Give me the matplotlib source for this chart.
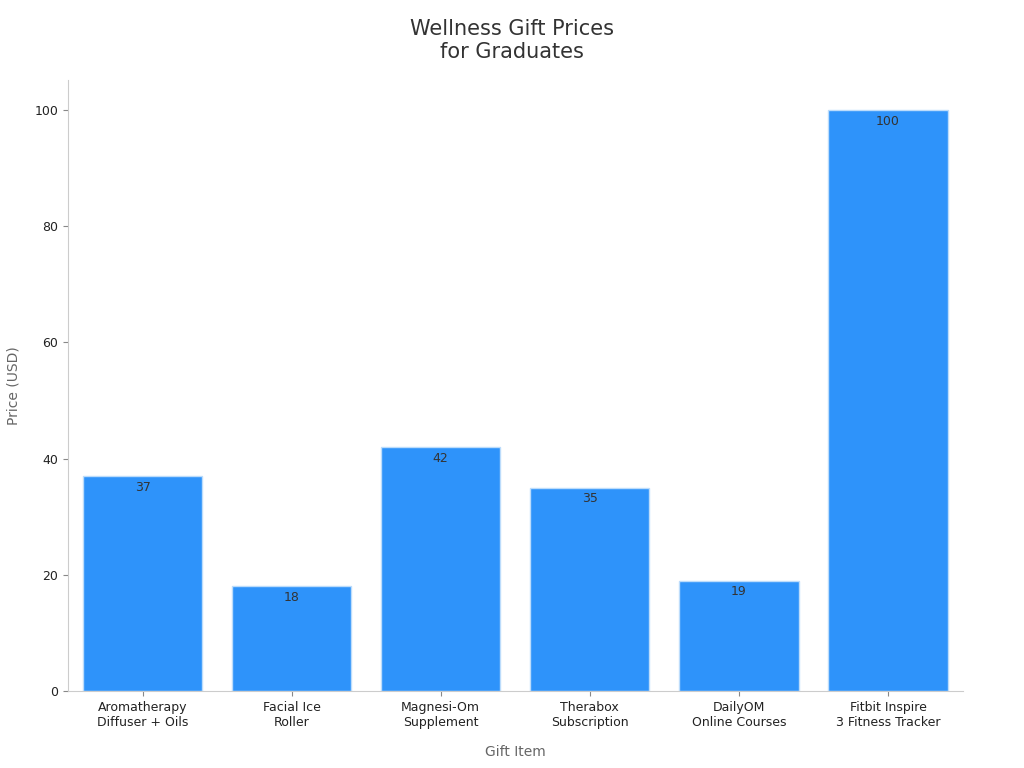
import matplotlib.pyplot as plt

gifts = ["Aromatherapy\nDiffuser + Oils", "Facial Ice\nRoller", "Magnesi-Om\nSupplement",
         "Therabox\nSubscription", "DailyOM\nOnline Courses", "Fitbit Inspire\n3 Fitness Tracker"]
prices = [37, 18, 42, 35, 19, 100]

fig = plt.figure(figsize=(10.24, 7.68), dpi=100)
ax = fig.add_axes([0.0664, 0.1003, 0.8736, 0.7957])

bars = ax.bar(range(len(gifts)), prices, width=0.8, color="#2e93fa", edgecolor="#bcdcfb", linewidth=1)
for b, v in zip(bars, prices):
    ax.text(b.get_x() + b.get_width() / 2, v - 0.8, str(v), ha="center", va="top",
            fontsize=9, color="#333333")

ax.set_xlim(-0.5, 5.5)
ax.set_ylim(0, 105.2)
ax.set_xticks(range(len(gifts)))
ax.set_xticklabels(gifts, fontsize=9, color="#222222")
ax.set_yticks([0, 20, 40, 60, 80, 100])
ax.tick_params(axis="y", labelsize=9, colors="#222222")
ax.tick_params(axis="both", color="#888888")
for s in ["top", "right"]:
    ax.spines[s].set_visible(False)
for s in ["left", "bottom"]:
    ax.spines[s].set_color("#cccccc")

ax.set_xlabel("Gift Item", fontsize=10, color="#666666", labelpad=12)
ax.set_ylabel("Price (USD)", fontsize=10, color="#666666", labelpad=10)
fig.suptitle("Wellness Gift Prices\nfor Graduates", fontsize=15, color="#333333", y=0.975)

fig.savefig("out.png", dpi=100)
